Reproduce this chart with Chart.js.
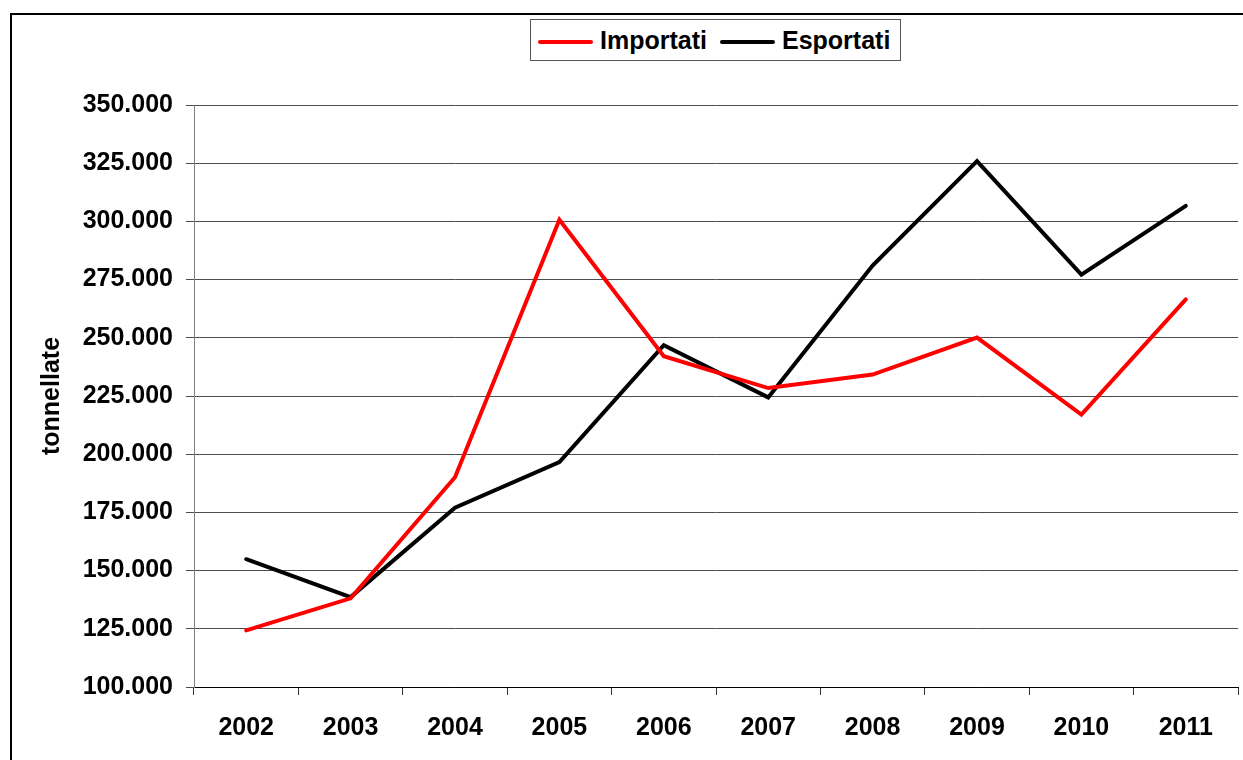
<!DOCTYPE html>
<html lang="it">
<head>
    <meta charset="UTF-8">
    <title>Importati / Esportati</title>
    <script src="https://cdn.jsdelivr.net/npm/chart.js"></script>
    <style>
        body {
            margin: 0;
            background: #fff;
            font-family: "Liberation Sans", Arial, sans-serif;
            overflow: hidden;
        }
        .frame {
            position: absolute;
            left: 10px;
            top: 13px;
            width: 1300px;
            height: 800px;
            border-left: 2px solid #000;
            border-top: 2px solid #000;
        }
        .chart-box {
            position: absolute;
            left: 0;
            top: 0;
            width: 1243px;
            height: 760px;
        }
        .legend {
            position: absolute;
            left: 530px;
            top: 19px;
            width: 369px;
            height: 40px;
            border: 1px solid #555;
            background: #fff;
            font-weight: bold;
            font-size: 25px;
        }
        .legend .item {
            position: absolute;
            top: 0;
            height: 40px;
            line-height: 40px;
            white-space: nowrap;
        }
        .legend .swatch {
            display: inline-block;
            width: 55px;
            height: 4px;
            border-radius: 2px;
            vertical-align: middle;
            margin-right: 7px;
        }
    </style>
</head>
<body>
    <div class="frame"></div>
    <div class="chart-box">
        <canvas id="lineChart" width="1243" height="760"></canvas>
    </div>
    <div class="legend" id="legend"></div>

    <script>
        // dati (tonnellate)
        const anni = ['2002', '2003', '2004', '2005', '2006', '2007', '2008', '2009', '2010', '2011'];
        const importati = [124300, 138100, 190100, 300700, 242100, 228400, 234200, 250100, 217000, 266500];
        const esportati = [154900, 138600, 177000, 196600, 246800, 224400, 281000, 325900, 277100, 306700];
        const serieNomi = ['Importati', 'Esportati'];
        const serieColori = ['#ff0000', '#000000'];

        const fontTick = { family: '"Liberation Sans", Arial, sans-serif', size: 25, weight: 'bold' };

        function formatta(v) {
            return String(v).replace(/\B(?=(\d{3})+(?!\d))/g, '.');
        }

        const ctx = document.getElementById('lineChart').getContext('2d');

        const chart = new Chart(ctx, {
            type: 'line',
            data: {
                labels: anni,
                datasets: [
                    { label: serieNomi[0], data: importati, borderColor: serieColori[0] },
                    { label: serieNomi[1], data: esportati, borderColor: serieColori[1] }
                ]
            },
            options: {
                responsive: false,
                animation: false,
                layout: {
                    padding: { left: 0, top: 105, right: 5, bottom: 0 }
                },
                elements: {
                    point: { radius: 0, hoverRadius: 0 },
                    line: { borderWidth: 4, tension: 0, borderCapStyle: 'round', borderJoinStyle: 'miter' }
                },
                plugins: {
                    legend: { display: false },
                    tooltip: { enabled: false }
                },
                scales: {
                    x: {
                        offset: true,
                        grid: {
                            offset: true,
                            drawOnChartArea: false,
                            drawTicks: true,
                            tickLength: 8,
                            color: '#333'
                        },
                        border: { color: '#000', width: 1 },
                        ticks: {
                            color: '#000',
                            font: fontTick,
                            padding: 18,
                            maxRotation: 0
                        },
                        afterFit: function (scale) { scale.height = 73; }
                    },
                    y: {
                        min: 100000,
                        max: 350000,
                        ticks: {
                            stepSize: 25000,
                            color: '#000',
                            font: fontTick,
                            padding: 13,
                            callback: function (v) { return formatta(v); }
                        },
                        grid: {
                            color: '#4d4d4d',
                            tickLength: 8,
                            lineWidth: 1
                        },
                        border: { color: '#808080', width: 1 },
                        title: {
                            display: true,
                            text: 'tonnellate',
                            color: '#000',
                            font: fontTick,
                            padding: { top: 37, bottom: 0 }
                        },
                        afterFit: function (scale) { scale.width = 194; }
                    }
                }
            }
        });

        // legenda esterna con cornice, come nell'originale
        const legend = document.getElementById('legend');
        const posizioni = [7, 189];
        serieNomi.forEach(function (nome, i) {
            const item = document.createElement('div');
            item.className = 'item';
            item.style.left = posizioni[i] + 'px';
            const sw = document.createElement('span');
            sw.className = 'swatch';
            sw.style.background = serieColori[i];
            item.appendChild(sw);
            item.appendChild(document.createTextNode(nome));
            legend.appendChild(item);
        });
    </script>
</body>
</html>
